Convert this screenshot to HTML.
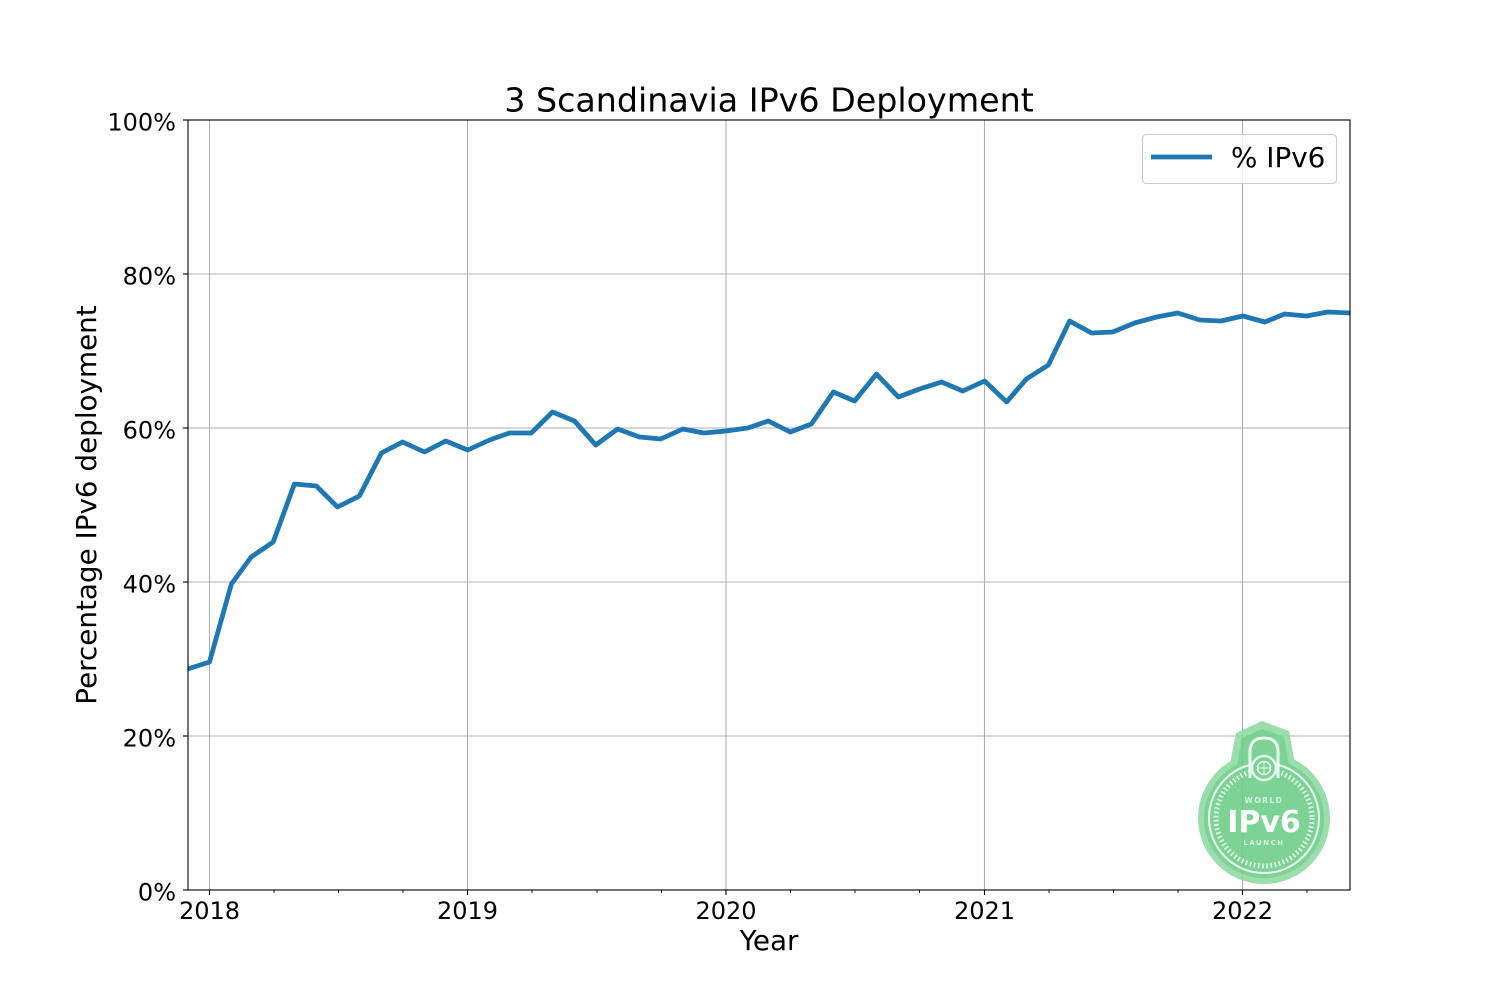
<!DOCTYPE html>
<html>
<head>
<meta charset="utf-8">
<style>
  html, body { margin: 0; padding: 0; background: #ffffff; }
  svg { display: block; }
  text { font-family: "DejaVu Sans", "Liberation Sans", sans-serif; fill: #000; }
</style>
</head>
<body>
<svg width="1500" height="1000" viewBox="0 0 1500 1000" xmlns="http://www.w3.org/2000/svg">
  <rect x="0" y="0" width="1500" height="1000" fill="#ffffff"/>
  <defs>
    <clipPath id="ax">
      <rect x="188" y="120" width="1162" height="770"/>
    </clipPath>
  </defs>

  <!-- grid -->
  <g stroke="#b0b0b0" stroke-width="1.1" fill="none">
    <line x1="209.5" y1="120" x2="209.5" y2="890"/>
    <line x1="467.5" y1="120" x2="467.5" y2="890"/>
    <line x1="726" y1="120" x2="726" y2="890"/>
    <line x1="984.5" y1="120" x2="984.5" y2="890"/>
    <line x1="1242.5" y1="120" x2="1242.5" y2="890"/>
    <line x1="188" y1="736" x2="1350" y2="736"/>
    <line x1="188" y1="582" x2="1350" y2="582"/>
    <line x1="188" y1="428" x2="1350" y2="428"/>
    <line x1="188" y1="274" x2="1350" y2="274"/>
  </g>

  <!-- IPv6 logo -->
  <g opacity="0.9">
    <path d="M1230,764 L1236,733 L1262,721 L1289,731 L1295,764 Z" fill="#8edba3"/>
    <circle cx="1264" cy="818" r="66" fill="#8edba3"/>
    <path d="M1237,765 L1242,738 L1262,729 L1284,737 L1289,765 Z" fill="#6fcf8a"/>
    <circle cx="1264" cy="818" r="60" fill="#6fcf8a"/>
    <circle cx="1264" cy="818" r="55" fill="none" stroke="#e9f8ee" stroke-width="2"/>
    <circle cx="1264" cy="818" r="48" fill="none" stroke="#e9f8ee" stroke-width="5" stroke-dasharray="1.6 2.6"/>
    <path d="M1250,778 L1250,752 Q1250,738 1264,738 Q1278,738 1278,752 L1278,778" fill="none" stroke="#e9f8ee" stroke-width="3"/>
    <circle cx="1264" cy="768" r="12" fill="#6fcf8a" stroke="#e9f8ee" stroke-width="2.5"/>
    <circle cx="1264" cy="768" r="6.5" fill="none" stroke="#e9f8ee" stroke-width="1.5"/>
    <line x1="1257.5" y1="768" x2="1270.5" y2="768" stroke="#e9f8ee" stroke-width="1"/>
    <line x1="1264" y1="761.5" x2="1264" y2="774.5" stroke="#e9f8ee" stroke-width="1"/>
    <text x="1264" y="803" text-anchor="middle" font-size="7.5" font-weight="bold" style="fill:#d4f2dd;letter-spacing:1.5px">WORLD</text>
    <text x="1264" y="832" text-anchor="middle" font-size="30" font-weight="bold" style="fill:#ffffff">IPv6</text>
    <text x="1264" y="845" text-anchor="middle" font-size="7" font-weight="bold" style="fill:#d4f2dd;letter-spacing:1.5px">LAUNCH</text>
  </g>

  <!-- data line -->
  <polyline clip-path="url(#ax)" fill="none" stroke="#1f77b4" stroke-width="4.8" stroke-linejoin="round" stroke-linecap="square"
    points="187.6,669 209.5,662 231.4,584 251.2,557 273.2,542 294.4,484 316.3,486 337.5,507 359.4,496 381.4,453 402.6,442 424.5,452 445.7,441 467.7,450 489.6,440 509.4,433 531.3,433 552.5,412 574.5,421 595.7,445 617.6,429 639.5,437 660.8,439 682.7,429 703.9,433 725.8,431 747.8,428 768.3,421 790.2,432 811.4,424 833.4,392 854.6,401 876.5,374 898.4,397 919.6,389 941.6,382 962.8,391 984.7,381 1006.6,402 1026.4,379 1048.4,365 1069.6,321 1091.5,333 1112.7,332 1134.6,323 1156.6,317 1177.8,313 1199.7,320 1220.9,321 1242.9,316 1264.8,322 1284.6,314 1306.5,316 1327.7,312 1349.7,313"/>

  <!-- spines -->
  <rect x="188" y="120" width="1162" height="770" fill="none" stroke="#000" stroke-width="1.1"/>

  <!-- y ticks -->
  <g stroke="#000" stroke-width="1.1">
    <line x1="183" y1="890" x2="188" y2="890"/>
    <line x1="183" y1="736" x2="188" y2="736"/>
    <line x1="183" y1="582" x2="188" y2="582"/>
    <line x1="183" y1="428" x2="188" y2="428"/>
    <line x1="183" y1="274" x2="188" y2="274"/>
    <line x1="183" y1="120" x2="188" y2="120"/>
  </g>
  <g font-size="24" text-anchor="end">
    <text x="176" y="900.5">0%</text>
    <text x="176" y="746.5">20%</text>
    <text x="176" y="592.5">40%</text>
    <text x="176" y="438.5">60%</text>
    <text x="176" y="284.5">80%</text>
    <text x="176" y="130.5">100%</text>
  </g>

  <!-- x ticks -->
  <g stroke="#000" stroke-width="1.1">
    <line x1="209.5" y1="890" x2="209.5" y2="895"/>
    <line x1="467.5" y1="890" x2="467.5" y2="895"/>
    <line x1="726" y1="890" x2="726" y2="895"/>
    <line x1="984.5" y1="890" x2="984.5" y2="895"/>
    <line x1="1242.5" y1="890" x2="1242.5" y2="895"/>
  </g>
  <g stroke="#000" stroke-width="0.9">
    <line x1="274" y1="890" x2="274" y2="893"/>
    <line x1="338.5" y1="890" x2="338.5" y2="893"/>
    <line x1="403" y1="890" x2="403" y2="893"/>
    <line x1="532" y1="890" x2="532" y2="893"/>
    <line x1="597" y1="890" x2="597" y2="893"/>
    <line x1="661.5" y1="890" x2="661.5" y2="893"/>
    <line x1="790.5" y1="890" x2="790.5" y2="893"/>
    <line x1="855" y1="890" x2="855" y2="893"/>
    <line x1="919.5" y1="890" x2="919.5" y2="893"/>
    <line x1="1049" y1="890" x2="1049" y2="893"/>
    <line x1="1113.5" y1="890" x2="1113.5" y2="893"/>
    <line x1="1178" y1="890" x2="1178" y2="893"/>
    <line x1="1307" y1="890" x2="1307" y2="893"/>
  </g>
  <g font-size="24" text-anchor="middle">
    <text x="209.5" y="919">2018</text>
    <text x="467.5" y="919">2019</text>
    <text x="726" y="919">2020</text>
    <text x="984.5" y="919">2021</text>
    <text x="1242.5" y="919">2022</text>
  </g>

  <!-- labels -->
  <text x="769" y="950" font-size="27.8" text-anchor="middle">Year</text>
  <text transform="translate(96,505) rotate(-90)" font-size="27.8" text-anchor="middle">Percentage IPv6 deployment</text>
  <text x="769" y="111.5" font-size="33.3" text-anchor="middle">3 Scandinavia IPv6 Deployment</text>

  <!-- legend -->
  <rect x="1142.5" y="134.5" width="194" height="49" rx="4" ry="4" fill="#ffffff" fill-opacity="0.8" stroke="#cccccc" stroke-width="1.1"/>
  <line x1="1151" y1="157" x2="1212" y2="157" stroke="#1f77b4" stroke-width="4.8"/>
  <text x="1231" y="167" font-size="27.8">% IPv6</text>
</svg>
</body>
</html>
